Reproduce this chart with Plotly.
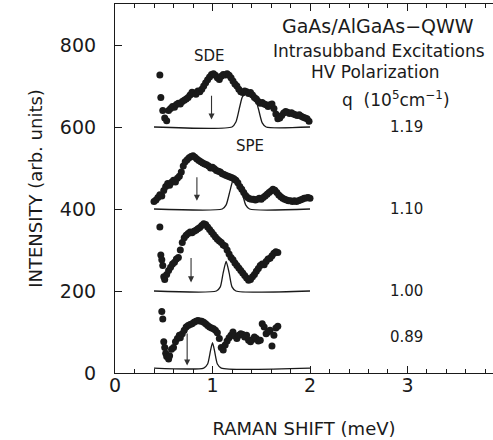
import plotly.graph_objects as go

# ---------------- data ----------------
q_labels = ["1.19", "1.10", "1.00", "0.89"]
q_label_y = [600, 400, 200, 88]

# measured spectra (dots)
x_119 = [0.46, 0.47, 0.49, 0.51, 0.53, 0.55, 0.57, 0.59, 0.61, 0.63, 0.65, 0.67, 0.69, 0.71, 0.73,
         0.75, 0.77, 0.79, 0.81, 0.83, 0.85, 0.87, 0.89, 0.91, 0.93, 0.95, 0.97, 0.99, 1.01, 1.03,
         1.05, 1.07, 1.09, 1.11, 1.13, 1.15, 1.17, 1.19, 1.21, 1.23, 1.25, 1.27, 1.29, 1.31, 1.33,
         1.35, 1.37, 1.39, 1.41, 1.43, 1.45, 1.47, 1.49, 1.51, 1.53, 1.55, 1.57, 1.59, 1.61, 1.63,
         1.65, 1.67, 1.69, 1.71, 1.73, 1.75, 1.77, 1.79, 1.81, 1.83, 1.85, 1.87, 1.89, 1.91, 1.93,
         1.95, 1.97, 1.99]
y_119 = [727, 672, 640, 622, 615, 640, 645, 650, 648, 655, 658, 656, 662, 665, 668,
         672, 678, 685, 683, 680, 688, 686, 692, 700, 708, 715, 722, 728, 730, 726,
         720, 716, 724, 728, 727, 730, 726, 720, 712, 705, 700, 692, 686, 684, 688,
         686, 682, 684, 678, 672, 668, 662, 658, 660, 656, 654, 650, 654, 656, 645,
         632, 620, 622, 628, 634, 638, 636, 633, 635, 632, 630, 628, 630, 626, 624,
         622, 620, 614]

x_110 = [0.40, 0.42, 0.44, 0.46, 0.48, 0.50, 0.52, 0.54, 0.56, 0.58, 0.60, 0.62, 0.64, 0.66, 0.68,
         0.70, 0.72, 0.74, 0.76, 0.78, 0.80, 0.82, 0.84, 0.86, 0.88, 0.90, 0.92, 0.94, 0.96, 0.98,
         1.00, 1.02, 1.04, 1.06, 1.08, 1.10, 1.12, 1.14, 1.16, 1.18, 1.20, 1.22, 1.24, 1.26, 1.28,
         1.30, 1.32, 1.34, 1.36, 1.38, 1.40, 1.42, 1.44, 1.46, 1.48, 1.50, 1.52, 1.54, 1.56, 1.58,
         1.60, 1.62, 1.64, 1.66, 1.68, 1.70, 1.72, 1.74, 1.76, 1.78, 1.80, 1.82, 1.84, 1.86, 1.88,
         1.90, 1.92, 1.94, 1.96, 1.98, 2.00]
y_110 = [418, 422, 428, 435, 432, 445, 455, 462, 458, 465, 470, 466, 475, 480, 490,
         505, 515, 520, 525, 528, 530, 526, 522, 518, 515, 512, 510, 508, 505, 500,
         502, 498, 494, 492, 490, 486, 484, 482, 480, 478, 476, 474, 470, 464, 455,
         448, 440, 433, 428, 425, 424, 424, 422, 424, 426, 424, 428, 432, 436, 440,
         444, 448, 446, 440, 434, 430, 426, 424, 422, 420, 420, 418, 420, 418, 420,
         422, 424, 426, 427, 428, 426]

x_100 = [0.46, 0.47, 0.48, 0.49, 0.50, 0.51, 0.53, 0.55, 0.57, 0.59, 0.61, 0.63, 0.65, 0.67, 0.69,
         0.71, 0.73, 0.75, 0.77, 0.79, 0.81, 0.83, 0.85, 0.87, 0.89, 0.91, 0.93, 0.95, 0.97, 0.99,
         1.01, 1.03, 1.05, 1.07, 1.09, 1.11, 1.13, 1.15, 1.17, 1.19, 1.21, 1.23, 1.25, 1.27, 1.29,
         1.31, 1.33, 1.35, 1.37, 1.39, 1.41, 1.43, 1.45, 1.47, 1.49, 1.51, 1.53, 1.55, 1.57, 1.59,
         1.61, 1.63, 1.65, 1.67]
y_100 = [356, 288, 276, 262, 235, 228, 240, 250, 258, 266, 270, 278, 282, 300, 318,
         330, 336, 340, 344, 342, 346, 348, 352, 355, 360, 364, 362, 356, 350, 344,
         338, 332, 326, 322, 318, 312, 310, 300, 290, 282, 276, 268, 262, 256, 250,
         244, 238, 232, 226, 228, 235, 240, 248, 255, 262, 266, 264, 272, 278, 280,
         286, 292, 296, 294]

x_089 = [0.48, 0.49, 0.50, 0.51, 0.52, 0.53, 0.55, 0.56, 0.58, 0.60, 0.62, 0.64, 0.66, 0.67, 0.69,
         0.71, 0.73, 0.75, 0.77, 0.79, 0.81, 0.83, 0.85, 0.87, 0.89, 0.91, 0.93, 0.95, 0.97, 0.99,
         1.01, 1.03, 1.05, 1.07, 1.09, 1.11, 1.13, 1.15, 1.17, 1.19, 1.21, 1.23, 1.25, 1.27, 1.29,
         1.31, 1.33, 1.35, 1.37, 1.39, 1.41, 1.43, 1.45, 1.47, 1.49, 1.51, 1.53, 1.55, 1.57, 1.59,
         1.61, 1.63, 1.65, 1.67]
y_089 = [150, 132, 76, 62, 48, 40, 34, 42, 58, 62, 76, 84, 92, 86, 96,
         104, 112, 116, 118, 120, 124, 126, 128, 127, 126, 124, 120, 116, 112, 110,
         108, 104, 98, 84, 62, 56, 68, 78, 86, 92, 100, 90, 84, 92, 96,
         94, 88, 92, 80, 76, 82, 88, 84, 78, 80, 120, 112, 96, 100, 104,
         66, 92, 110, 114]

# theoretical SPE lines (thin curves)
lx_119 = [0.40, 1.20, 1.24, 1.28, 1.31, 1.37, 1.43, 1.47, 1.51, 1.55, 2.00]
ly_119 = [600, 600, 612, 650, 675, 682, 675, 645, 610, 600, 600]
lx_110 = [0.40, 1.10, 1.14, 1.18, 1.21, 1.24, 1.27, 1.30, 1.34, 1.38, 2.00]
ly_110 = [400, 400, 410, 445, 470, 475, 470, 445, 410, 400, 400]
lx_100 = [0.40, 1.04, 1.08, 1.11, 1.14, 1.17, 1.20, 1.24, 2.00]
ly_100 = [200, 200, 210, 245, 272, 245, 210, 200, 200]
lx_089 = [0.40, 0.91, 0.95, 0.98, 1.00, 1.02, 1.05, 1.09, 2.00]
ly_089 = [12, 12, 22, 55, 74, 55, 22, 12, 12]

# arrows (x position, start y, tip y)
arrow_x = [0.99, 0.84, 0.78, 0.74]
arrow_top = [680, 481, 284, 100]
arrow_tip = [618, 420, 221, 18]

x_ticks = [0, 1, 2, 3]
y_ticks = [0, 200, 400, 600, 800]

# ---------------- figure ----------------
INK = "#1a1a1a"
FONT = "DejaVu Sans"

fig = go.Figure()
dots = [(x_119, y_119), (x_110, y_110), (x_100, y_100), (x_089, y_089)]
lines = [(lx_119, ly_119), (lx_110, ly_110), (lx_100, ly_100), (lx_089, ly_089)]

for (lx, ly) in lines:
    fig.add_trace(go.Scatter(x=lx, y=ly, mode="lines",
                             line=dict(color=INK, width=1.3, shape="spline", smoothing=0.6),
                             hoverinfo="skip", showlegend=False))
for (dx, dy) in dots:
    fig.add_trace(go.Scatter(x=dx, y=dy, mode="markers",
                             marker=dict(color=INK, size=7, line=dict(width=0)),
                             showlegend=False))

for ax_, top, tip in zip(arrow_x, arrow_top, arrow_tip):
    fig.add_annotation(x=ax_, y=tip, ax=ax_, ay=top, axref="x", ayref="y", xref="x", yref="y",
                       text="", showarrow=True, arrowhead=2, arrowsize=1.1, arrowwidth=1.1,
                       arrowcolor="#333")


def label(txt, x, y, size):
    fig.add_annotation(x=x, y=y, xref="x", yref="y", text=txt, showarrow=False,
                       font=dict(family=FONT, size=size, color=INK),
                       xanchor="center", yanchor="middle")


label("GaAs/AlGaAs\u2212QWW", 2.70, 846, 19)
label("Intrasubband Excitations", 2.71, 785, 17)
label("HV Polarization", 2.67, 734, 17)
label("q  (10<sup>5</sup>cm<sup>\u22121</sup>)", 2.88, 668, 17)
for qs, yy in zip(q_labels, q_label_y):
    label(qs, 2.99, yy, 15)
label("SDE", 0.97, 773, 15)
label("SPE", 1.38, 554, 15)

fig.update_layout(
    width=493, height=440,
    margin=dict(l=115, r=0, t=4, b=67),
    paper_bgcolor="white", plot_bgcolor="white",
    font=dict(family=FONT, color=INK),
)
fig.update_xaxes(
    range=[0, 3.877], tickvals=x_ticks, ticktext=[str(v) for v in x_ticks],
    ticks="inside", ticklen=7, tickwidth=1, tickcolor=INK,
    minor=dict(dtick=0.2, tick0=0, ticks="inside", ticklen=4, tickwidth=1,
               tickcolor=INK, showgrid=False),
    showline=True, linecolor=INK, linewidth=1.2, mirror="allticks",
    showgrid=False, zeroline=False, automargin=False,
    tickfont=dict(family=FONT, size=19, color=INK), ticklabelstandoff=-5,
    title=dict(text="RAMAN SHIFT (meV)", font=dict(family=FONT, size=18, color=INK), standoff=27),
)
fig.update_yaxes(
    range=[0, 900], tickvals=y_ticks, ticktext=[str(v) for v in y_ticks],
    ticks="inside", ticklen=7, tickwidth=1, tickcolor=INK,
    showline=True, linecolor=INK, linewidth=1.2, mirror=False,
    showgrid=False, zeroline=False, automargin=False,
    tickfont=dict(family=FONT, size=19, color=INK), ticklabelstandoff=14,
    title=dict(text="INTENSITY (arb. units)", font=dict(family=FONT, size=18, color=INK), standoff=12),
)

fig.write_html("out.html", config={"displayModeBar": False},
               post_script="document.body.style.margin='0';")
